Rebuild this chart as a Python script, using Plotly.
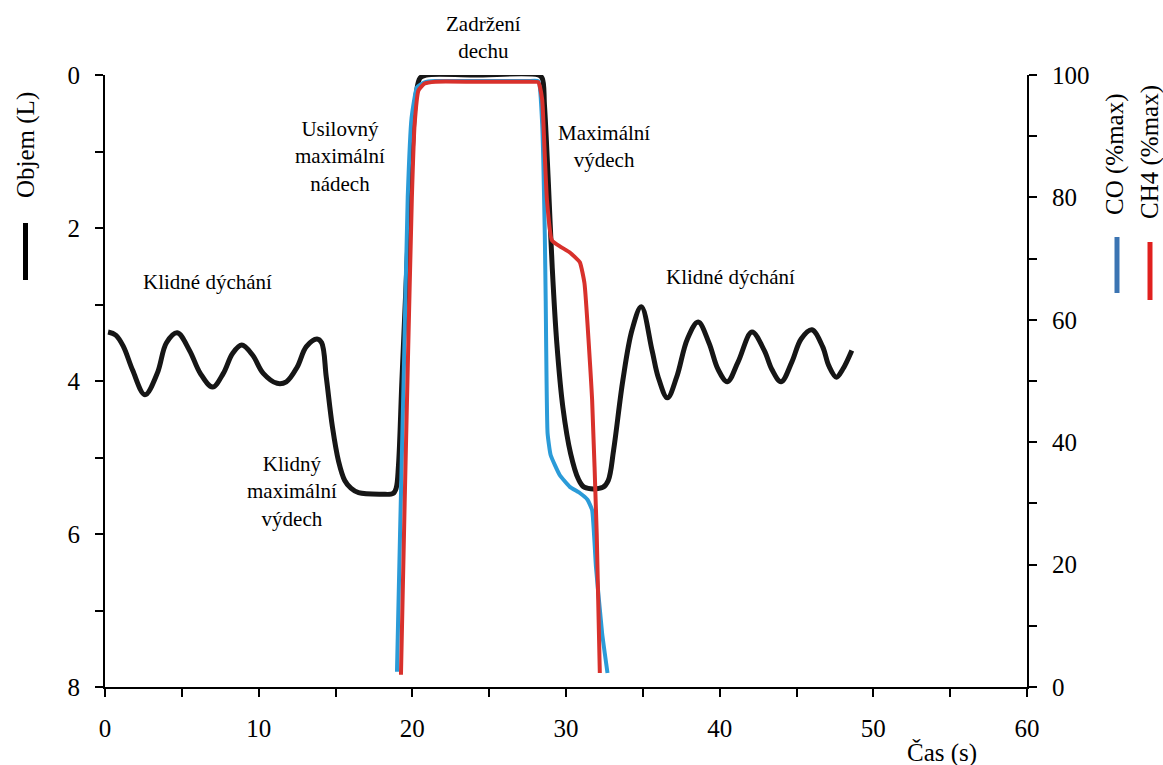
import plotly.graph_objects as go

# ---- data ----
time_vol = [0.2, 0.7, 1.2, 1.8, 2.6, 3.4, 4.0, 4.7, 5.5, 6.2, 7.0, 7.7, 8.3, 8.9, 9.6, 10.3,
            11.2, 11.8, 12.5, 13.1, 13.8, 14.1, 14.4, 14.8, 15.2, 15.6, 16.0, 16.5, 18.0, 18.75,
            18.95, 19.1, 19.32, 19.6, 19.97, 20.25, 20.5, 20.9, 24.0, 28.2, 28.45, 28.6,
            28.85, 29.1, 29.4, 29.8, 30.3, 30.8, 31.2, 32.4, 32.75, 33.1, 33.7, 34.3, 34.9,
            35.6, 36.0, 36.6, 37.2, 37.9, 38.6, 39.3, 39.9, 40.5, 41.2, 42.1, 42.9,
            43.4, 44.0, 44.7, 45.3, 46.0, 46.7, 47.1, 47.6, 48.0, 48.6]
volume = [3.36, 3.4, 3.55, 3.86, 4.18, 3.9, 3.5, 3.37, 3.6, 3.9, 4.08, 3.9, 3.64, 3.53, 3.66, 3.9,
          4.03, 4.01, 3.82, 3.55, 3.45, 3.5, 3.95, 4.6, 5.05, 5.3, 5.4, 5.46, 5.48, 5.47,
          5.4, 5.1, 4.0, 2.7, 1.1, 0.25, 0.04, 0.0, 0.0, 0.0, 0.04, 0.4,
          1.4, 2.5, 3.5, 4.35, 4.95, 5.28, 5.39, 5.39, 5.3, 4.9, 3.99, 3.33, 3.03,
          3.6, 3.95, 4.22, 3.95, 3.45, 3.23, 3.5, 3.85, 4.01, 3.75, 3.36, 3.6,
          3.85, 4.01, 3.75, 3.45, 3.33, 3.55, 3.8, 3.95, 3.85, 3.6]

time_co = [19.0, 19.2, 19.45, 19.7, 19.95, 20.3, 20.8, 21.5, 24.0, 27.5, 28.2, 28.45, 28.62,
           28.68, 28.8, 29.0, 29.6, 30.25, 30.9, 31.4, 31.7, 31.95, 32.35, 32.7]
co = [2.5, 25, 52, 80, 93, 98, 98.8, 99, 99, 99, 99, 92, 74,
      63, 41.5, 37.9, 34.6, 32.7, 31.7, 30.6, 28.9, 19.6, 8.8, 2.3]

time_ch4 = [19.26, 19.5, 19.7, 19.97, 20.15, 20.4, 20.8, 21.5, 24.0, 27.5, 28.2, 28.45, 28.6,
            28.76, 29.08, 29.6, 30.25, 30.9, 31.2, 31.7, 32.0, 32.2]
ch4 = [2, 30, 52, 80, 92, 97.5, 98.6, 98.9, 98.9, 98.9, 98.8, 96, 88,
       79.6, 73, 72, 71, 69.4, 66, 46.9, 25, 2.3]

x_ticks = [0, 10, 20, 30, 40, 50, 60]
vol_ticks = [0, 2, 4, 6, 8]
pct_ticks = [0, 20, 40, 60, 80, 100]

# (text, time, volume) labels inside the plot
labels = [
    ("Klidné dýchání", 6.65, 2.7),
    ("Klidný<br>maximální<br>výdech", 12.2, 5.45),
    ("Usilovný<br>maximální<br>nádech", 15.3, 1.07),
    ("Maximální<br>výdech", 32.5, 0.94),
    ("Klidné dýchání", 40.7, 2.64),
]
# label above the plot area (time, paper y)
top_label = ("Zadržení<br>dechu", 24.6, 1.062)

SERIF = "Liberation Serif"
BLACK = "#161616"
RED = "#d8312c"
BLUE = "#2b9bd8"

fig = go.Figure()
fig.add_trace(go.Scatter(x=time_vol, y=volume, mode="lines", yaxis="y",
                         line=dict(color=BLACK, width=5, shape="spline", smoothing=1.0),
                         showlegend=False, name="Objem"))
fig.add_trace(go.Scatter(x=time_co, y=co, mode="lines", yaxis="y2",
                         line=dict(color=BLUE, width=4, shape="spline", smoothing=0.4),
                         showlegend=False, name="CO"))
fig.add_trace(go.Scatter(x=time_ch4, y=ch4, mode="lines", yaxis="y2",
                         line=dict(color=RED, width=4, shape="spline", smoothing=0.4),
                         showlegend=False, name="CH4"))

axis_common = dict(showline=True, linecolor="black", linewidth=2, ticks="outside",
                   ticklen=8, tickwidth=2, tickcolor="black", showgrid=False,
                   zeroline=False, tickfont=dict(family=SERIF, size=25, color="black"),
                   ticklabelstandoff=10)

fig.update_layout(
    width=1163, height=765,
    margin=dict(l=105, r=136, t=75, b=78),
    paper_bgcolor="white", plot_bgcolor="white",
    font=dict(family=SERIF, color="black"),
    xaxis=dict(range=[0, 60], tickvals=x_ticks, anchor="y",
               minor=dict(dtick=5, ticks="outside", ticklen=8, tickwidth=2, tickcolor="black"),
               **axis_common),
    yaxis=dict(range=[8, 0], tickvals=vol_ticks,
               minor=dict(dtick=1, ticks="outside", ticklen=8, tickwidth=2, tickcolor="black"),
               **axis_common),
    yaxis2=dict(range=[0, 100], tickvals=pct_ticks, overlaying="y", side="right",
                minor=dict(dtick=10, ticks="outside", ticklen=8, tickwidth=2, tickcolor="black"),
                **axis_common),
)

for text, x, y in labels:
    fig.add_annotation(text=text, x=x, y=y, xref="x", yref="y", showarrow=False,
                       font=dict(family=SERIF, size=21, color="black"),
                       xanchor="center", yanchor="middle", align="center")
fig.add_annotation(text=top_label[0], x=top_label[1], y=top_label[2], xref="x", yref="paper",
                   showarrow=False, font=dict(family=SERIF, size=21, color="black"),
                   xanchor="center", yanchor="middle", align="center")

# axis titles
fig.add_annotation(text="Čas (s)", x=(942 - 105) / 922, y=-(753 - 687) / 612,
                   xref="paper", yref="paper", showarrow=False,
                   font=dict(family=SERIF, size=25, color="black"),
                   xanchor="center", yanchor="middle")
for text, px, py in [("Objem (L)", 26, 145), ("CO (%max)", 1115, 154), ("CH4 (%max)", 1150, 152)]:
    fig.add_annotation(text=text, x=(px - 105) / 922, y=(687 - py) / 612,
                       xref="paper", yref="paper", showarrow=False, textangle=-90,
                       font=dict(family=SERIF, size=25, color="black"),
                       xanchor="center", yanchor="middle")

# legend keys next to the axis titles
for px, y0, y1, col in [(25.5, 223, 280, "black"), (1117, 237, 293, "#3b74b2"),
                        (1150, 242, 300, "#e0201e")]:
    xp = (px - 105) / 922
    fig.add_shape(type="line", xref="paper", yref="paper", x0=xp, x1=xp,
                  y0=(687 - y1) / 612, y1=(687 - y0) / 612,
                  line=dict(color=col, width=5))

fig.write_html("out.html")
